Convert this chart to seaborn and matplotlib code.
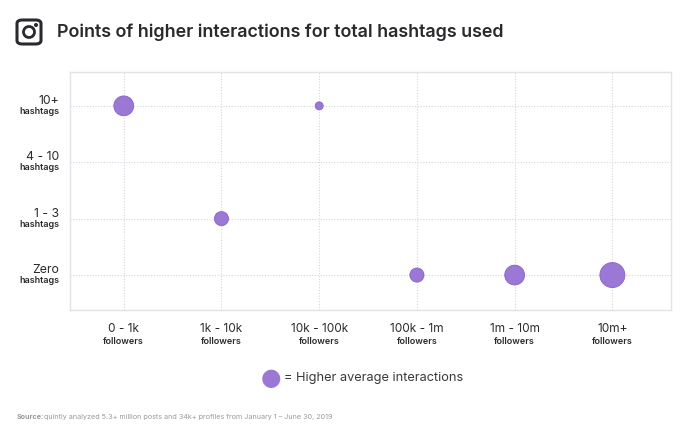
import numpy as np
import pandas as pd
import matplotlib.pyplot as plt
import matplotlib.transforms as mtransforms
from matplotlib.patches import FancyBboxPatch, Ellipse
import seaborn as sns

# Data
followers = ["0 - 1k", "1k - 10k", "10k - 100k", "100k - 1m", "1m - 10m", "10m+"]
hashtags = ["Zero", "1 - 3", "4 - 10", "10+"]
point_followers = ["0 - 1k", "10k - 100k", "1k - 10k", "100k - 1m", "1m - 10m", "10m+"]
point_hashtags = ["10+", "10+", "1 - 3", "Zero", "Zero", "Zero"]
point_weight = [2.0, 0.3, 1.0, 1.0, 2.0, 3.2]

df = pd.DataFrame({
    "x": [followers.index(f) for f in point_followers],
    "y": [hashtags.index(h) for h in point_hashtags],
    "weight": point_weight,
})

purple = "#9b78d6"
edge = "#8763c7"

sns.set_style("white")
plt.rcParams["font.family"] = ["Inter", "DejaVu Sans"]

W, H = 700, 433
fig = plt.figure(figsize=(7, 4.33), dpi=100)
ax = fig.add_axes([0.1, 0.284, 0.8586, 0.5497])

sns.scatterplot(
    data=df, x="x", y="y", size="weight",
    sizes=(33, 324), size_norm=(0.3, 3.2),
    color=purple, edgecolor=edge, linewidth=0.6,
    legend=False, ax=ax, zorder=3,
)

ax.set_xlim(-0.55, 5.6)
ax.set_ylim(-0.62, 3.6)
ax.set_xticks(range(len(followers)))
ax.set_yticks(range(len(hashtags)))
ax.set_xticklabels([])
ax.set_yticklabels([])
ax.tick_params(length=0)
ax.set_xlabel("")
ax.set_ylabel("")
ax.grid(True, color="#d4d6de", linestyle=(0, (1, 1.5)), linewidth=0.8)
for s in ax.spines.values():
    s.set_color("#e2e3e9")
    s.set_linewidth(1.0)

# two-line tick labels
xt = mtransforms.blended_transform_factory(ax.transData, fig.transFigure)
for i, f in enumerate(followers):
    ax.text(i, 1 - 329 / H, f, transform=xt, ha="center", va="center",
            fontsize=8.5, color="#2b2b2b")
    ax.text(i, 1 - 341 / H, "followers", transform=xt, ha="center",
            va="center", fontsize=6.5, color="#2b2b2b", fontweight="semibold")

yt = mtransforms.blended_transform_factory(fig.transFigure, ax.transData)
for j, h in enumerate(hashtags):
    ax.text(59 / W, j + 0.09, h, transform=yt, ha="right", va="center",
            fontsize=8.8, color="#2b2b2b")
    ax.text(59 / W, j - 0.1, "hashtags", transform=yt, ha="right",
            va="center", fontsize=6.5, color="#2b2b2b", fontweight="semibold")

# title and icon
fig.text(57 / W, 1 - 32 / H, "Points of higher interactions for total hashtags used",
         fontsize=12.9, fontweight="semibold", color="#2a2a2e", va="center", ha="left")
icon = FancyBboxPatch((17 / W, 1 - 44 / H), 24 / W, 24 / H,
                      boxstyle="round,pad=0,rounding_size=0.008",
                      transform=fig.transFigure, fill=False,
                      edgecolor="#2a2a2e", linewidth=2.2)
fig.patches.append(icon)
fig.patches.append(Ellipse((29 / W, 1 - 32 / H), 11 / W, 11 / H,
                           transform=fig.transFigure, fill=False,
                           edgecolor="#2a2a2e", linewidth=2.0))
fig.patches.append(Ellipse((36 / W, 1 - 25 / H), 2.6 / W, 2.6 / H,
                           transform=fig.transFigure, color="#2a2a2e"))

# legend
fig.text(271 / W, 1 - 378 / H, "\u25cf", fontsize=17, color=purple,
         ha="center", va="center", family="DejaVu Sans")
fig.text(284 / W, 1 - 378 / H, "= Higher average interactions", fontsize=9.2,
         color="#3a3a3a", ha="left", va="center")

# source
fig.text(17 / W, 1 - 417 / H, "Source:", fontsize=5.2, fontweight="bold",
         color="#9a9a9a", ha="left", va="center")
fig.text(44 / W, 1 - 417 / H,
         "quintly analyzed 5.3+ million posts and 34k+ profiles from January 1 \u2013 June 30, 2019",
         fontsize=5.2, color="#9a9a9a", ha="left", va="center")

fig.savefig("out.png", dpi=100, facecolor="white")
